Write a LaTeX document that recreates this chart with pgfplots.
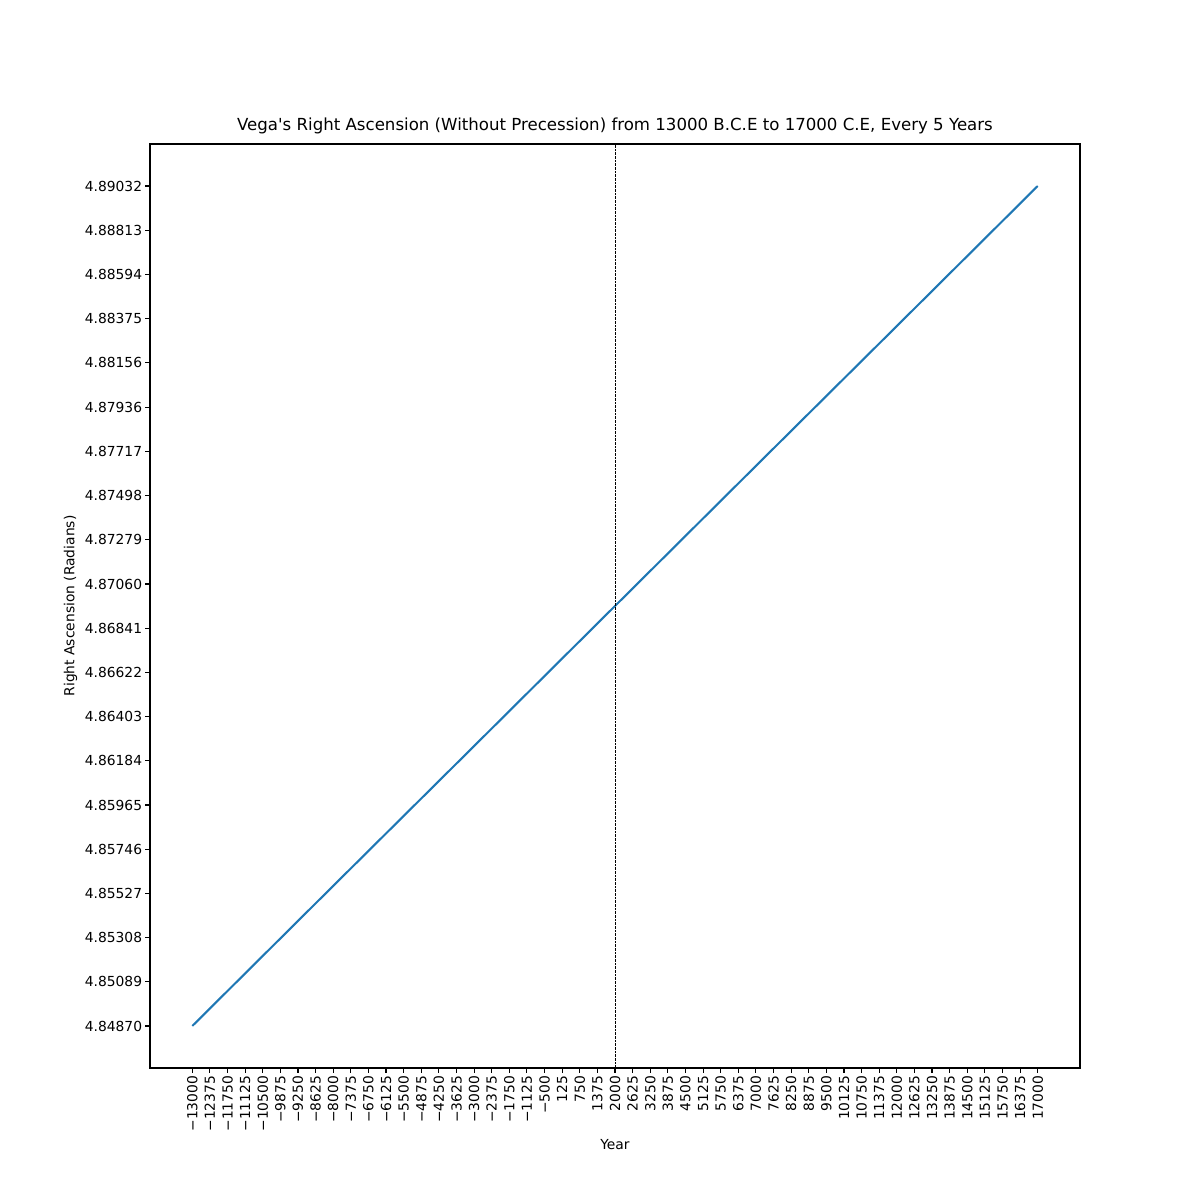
\documentclass[border=0pt]{standalone}
\usepackage{fontspec}
\setmainfont{DejaVu Sans}
\usepackage{pgfplots}
\pgfplotsset{compat=1.18}
\definecolor{mplblue}{HTML}{1F77B4}

\begin{document}
\fontsize{10}{12}\selectfont
\begin{tikzpicture}
\path[use as bounding box] (-1.5in,-1.32in) rectangle (10.5in,10.68in);
\begin{axis}[
  at={(0,0)}, anchor=south west,
  scale only axis, width=9.3in, height=9.24in,
  xmin=-14500, xmax=18500,
  ymin=4.846619, ymax=4.892401,
  axis line style={line width=0.8pt},
  tick style={line width=0.8pt, black},
  tick align=outside, major tick length=3.5pt,
  xtick pos=bottom, ytick pos=left,
  scaled x ticks=false, scaled y ticks=false,
  xtick={-13000,-12375,...,17000},
  xticklabels={−13000,−12375,−11750,−11125,−10500,−9875,−9250,−8625,−8000,−7375,−6750,−6125,−5500,−4875,−4250,−3625,−3000,−2375,−1750,−1125,−500,125,750,1375,2000,2625,3250,3875,4500,5125,5750,6375,7000,7625,8250,8875,9500,10125,10750,11375,12000,12625,13250,13875,14500,15125,15750,16375,17000},
  xticklabel style={rotate=90, anchor=east, font=\fontsize{10}{12}\selectfont, inner sep=2pt},
  ytick={4.84870,4.85089,4.85308,4.85527,4.85746,4.85965,4.86184,4.86403,4.86622,4.86841,4.87060,4.87279,4.87498,4.87717,4.87936,4.88156,4.88375,4.88594,4.88813,4.89032},
  yticklabels={4.84870,4.85089,4.85308,4.85527,4.85746,4.85965,4.86184,4.86403,4.86622,4.86841,4.87060,4.87279,4.87498,4.87717,4.87936,4.88156,4.88375,4.88594,4.88813,4.89032},
  yticklabel style={font=\fontsize{10}{12}\selectfont, inner sep=2pt},
  title={Vega\textquotesingle s Right Ascension (Without Precession) from 13000 B.C.E to 17000 C.E, Every 5 Years},
  title style={font=\fontsize{12}{14}\selectfont, yshift=-2pt},
  xlabel={Year},
  ylabel={Right Ascension (Radians)},
  label style={font=\fontsize{10}{12}\selectfont},
]
\addplot[color=mplblue, line width=1.5pt, no markers] coordinates {
  (-13000,4.84870) (-8000,4.85564) (-3000,4.86257) (2000,4.86951)
  (7000,4.87645) (12000,4.88338) (17000,4.89032)
};
\addplot[black, dash pattern=on 1.85pt off 0.8pt, line width=0.5pt, no markers] coordinates {
  (2000,4.846619) (2000,4.892401)
};
\end{axis}
\end{tikzpicture}
\end{document}
